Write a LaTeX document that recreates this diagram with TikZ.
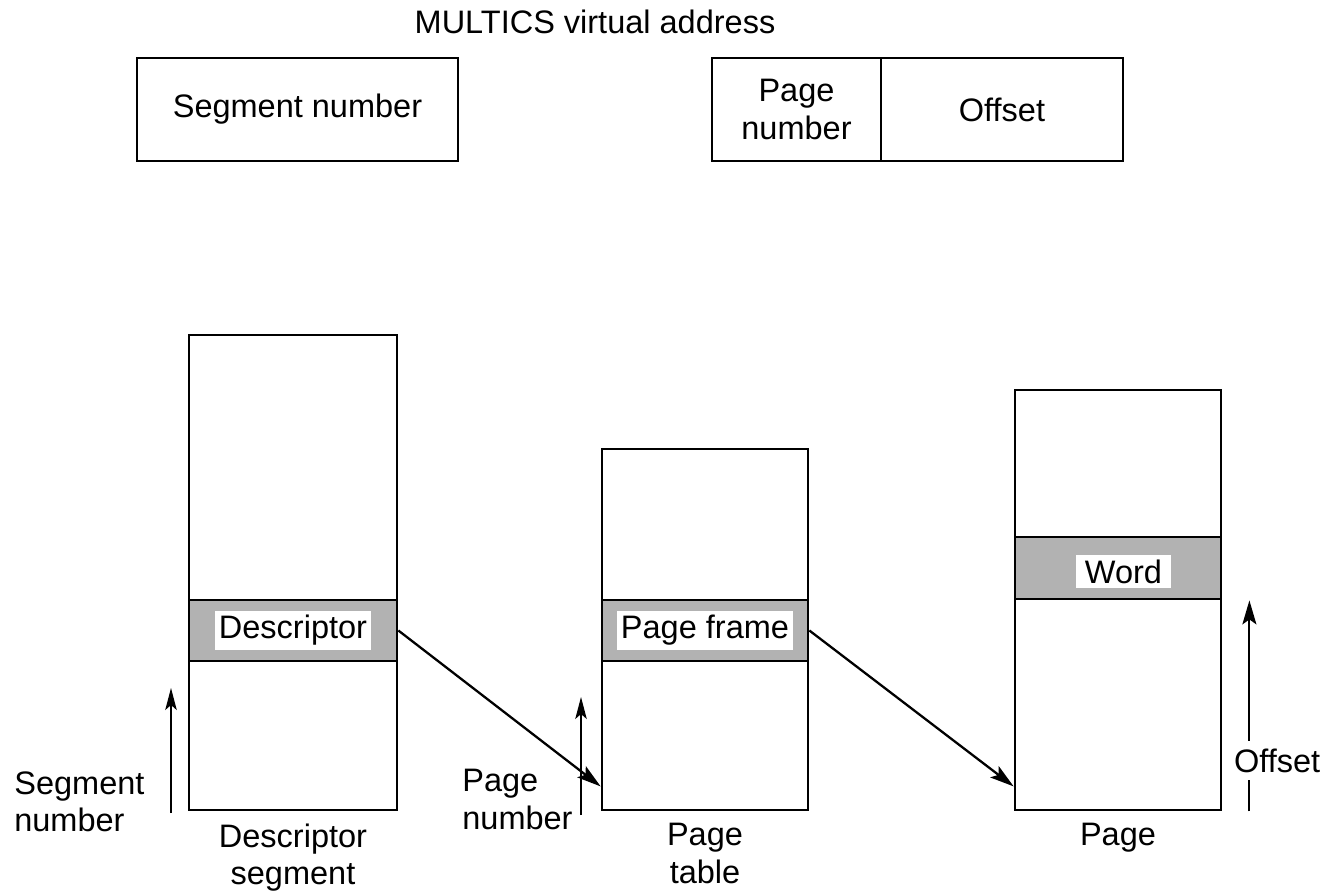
\documentclass[tikz,border=0pt]{standalone}
\usepackage{fontspec}
\setmainfont{Liberation Sans}
\usetikzlibrary{arrows.meta,positioning}

\begin{document}
\begin{tikzpicture}[
  x=0.02cm, y=-0.02cm,
  every node/.style={font=\fontsize{18.5}{21.5}\selectfont},
  box/.style={draw, line width=1.6pt, inner sep=0pt},
  band/.style={box, fill=black!30},
  tag/.style={fill=white, inner xsep=2pt, inner ysep=2.5pt},
  arr/.style={-{Stealth[length=4.8mm, width=2.8mm, inset=1mm]}, line width=1.3pt},
  thinarr/.style={-{Stealth[length=4.4mm, width=2.3mm, inset=1mm]}, line width=0.8pt}]
\useasboundingbox (0,0) rectangle (1324,894);
% virtual address
\node (title) at (595,22) {MULTICS virtual address};
\node[box, minimum width=6.42cm, minimum height=2.06cm] (segno) at (297.5,109.5) {Segment number};
\node[box, minimum width=3.38cm, minimum height=2.06cm, align=center] (pageno) at (796.5,109.5) {Page\\number};
\node[box, minimum width=4.84cm, minimum height=2.06cm] (offs) at (1002,109.5) {Offset};
% descriptor segment
\node[box, minimum width=4.16cm, minimum height=9.5cm] (dseg) at (293,572.5) {};
\node[band, minimum width=4.16cm, minimum height=1.22cm] (desc) at (293,630.5) {};
\node[tag] (desctag) at (desc.center) {Descriptor};
\node[below=0.12cm of dseg, align=center] (dsegl) {Descriptor\\segment};
% page table
\node[box, minimum width=4.12cm, minimum height=7.22cm] (ptab) at (705,629.5) {};
\node[band, minimum width=4.12cm, minimum height=1.22cm] (pfr) at (705,630.5) {};
\node[tag] (pfrtag) at (pfr.center) {Page frame};
\node[below=0.12cm of ptab, align=center] (ptabl) {Page\\table};
% page
\node[box, minimum width=4.12cm, minimum height=8.4cm] (page) at (1118,600) {};
\node[band, minimum width=4.12cm, minimum height=1.24cm] (word) at (1118,568) {};
\node[tag, inner xsep=5pt] (wordtag) at (1123.5,571.5) {Word};
\node[below=0.12cm of page] (pagel) {Page};
% offsets
\coordinate (segbot) at (171,813);
\coordinate (segtop) at (171,688);
\coordinate (pnbot) at (581,815);
\coordinate (pntop) at (581,697);
\node[anchor=north west, inner sep=0pt, align=left] (segnol) at (14,771) {Segment\\number};
\node[anchor=north west, inner sep=0pt, align=left] (pagenol) at (462,769) {Page\\number};
\draw[thinarr] (segbot) -- (segtop);
\draw[thinarr] (pnbot) -- (pntop);
\draw[arr] (desc.east) -- ([yshift=0.5cm]ptab.south west);
\draw[arr] (pfr.east) -- ([yshift=0.5cm]page.south west);
\draw[arr, line width=1.1pt] ([xshift=0.54cm]page.south east) -- ([xshift=0.54cm]word.south east);
\node[anchor=base west, fill=white, inner xsep=1pt, inner ysep=4.5pt] (offl) at (1232,772) {Offset};
\end{tikzpicture}
\end{document}
